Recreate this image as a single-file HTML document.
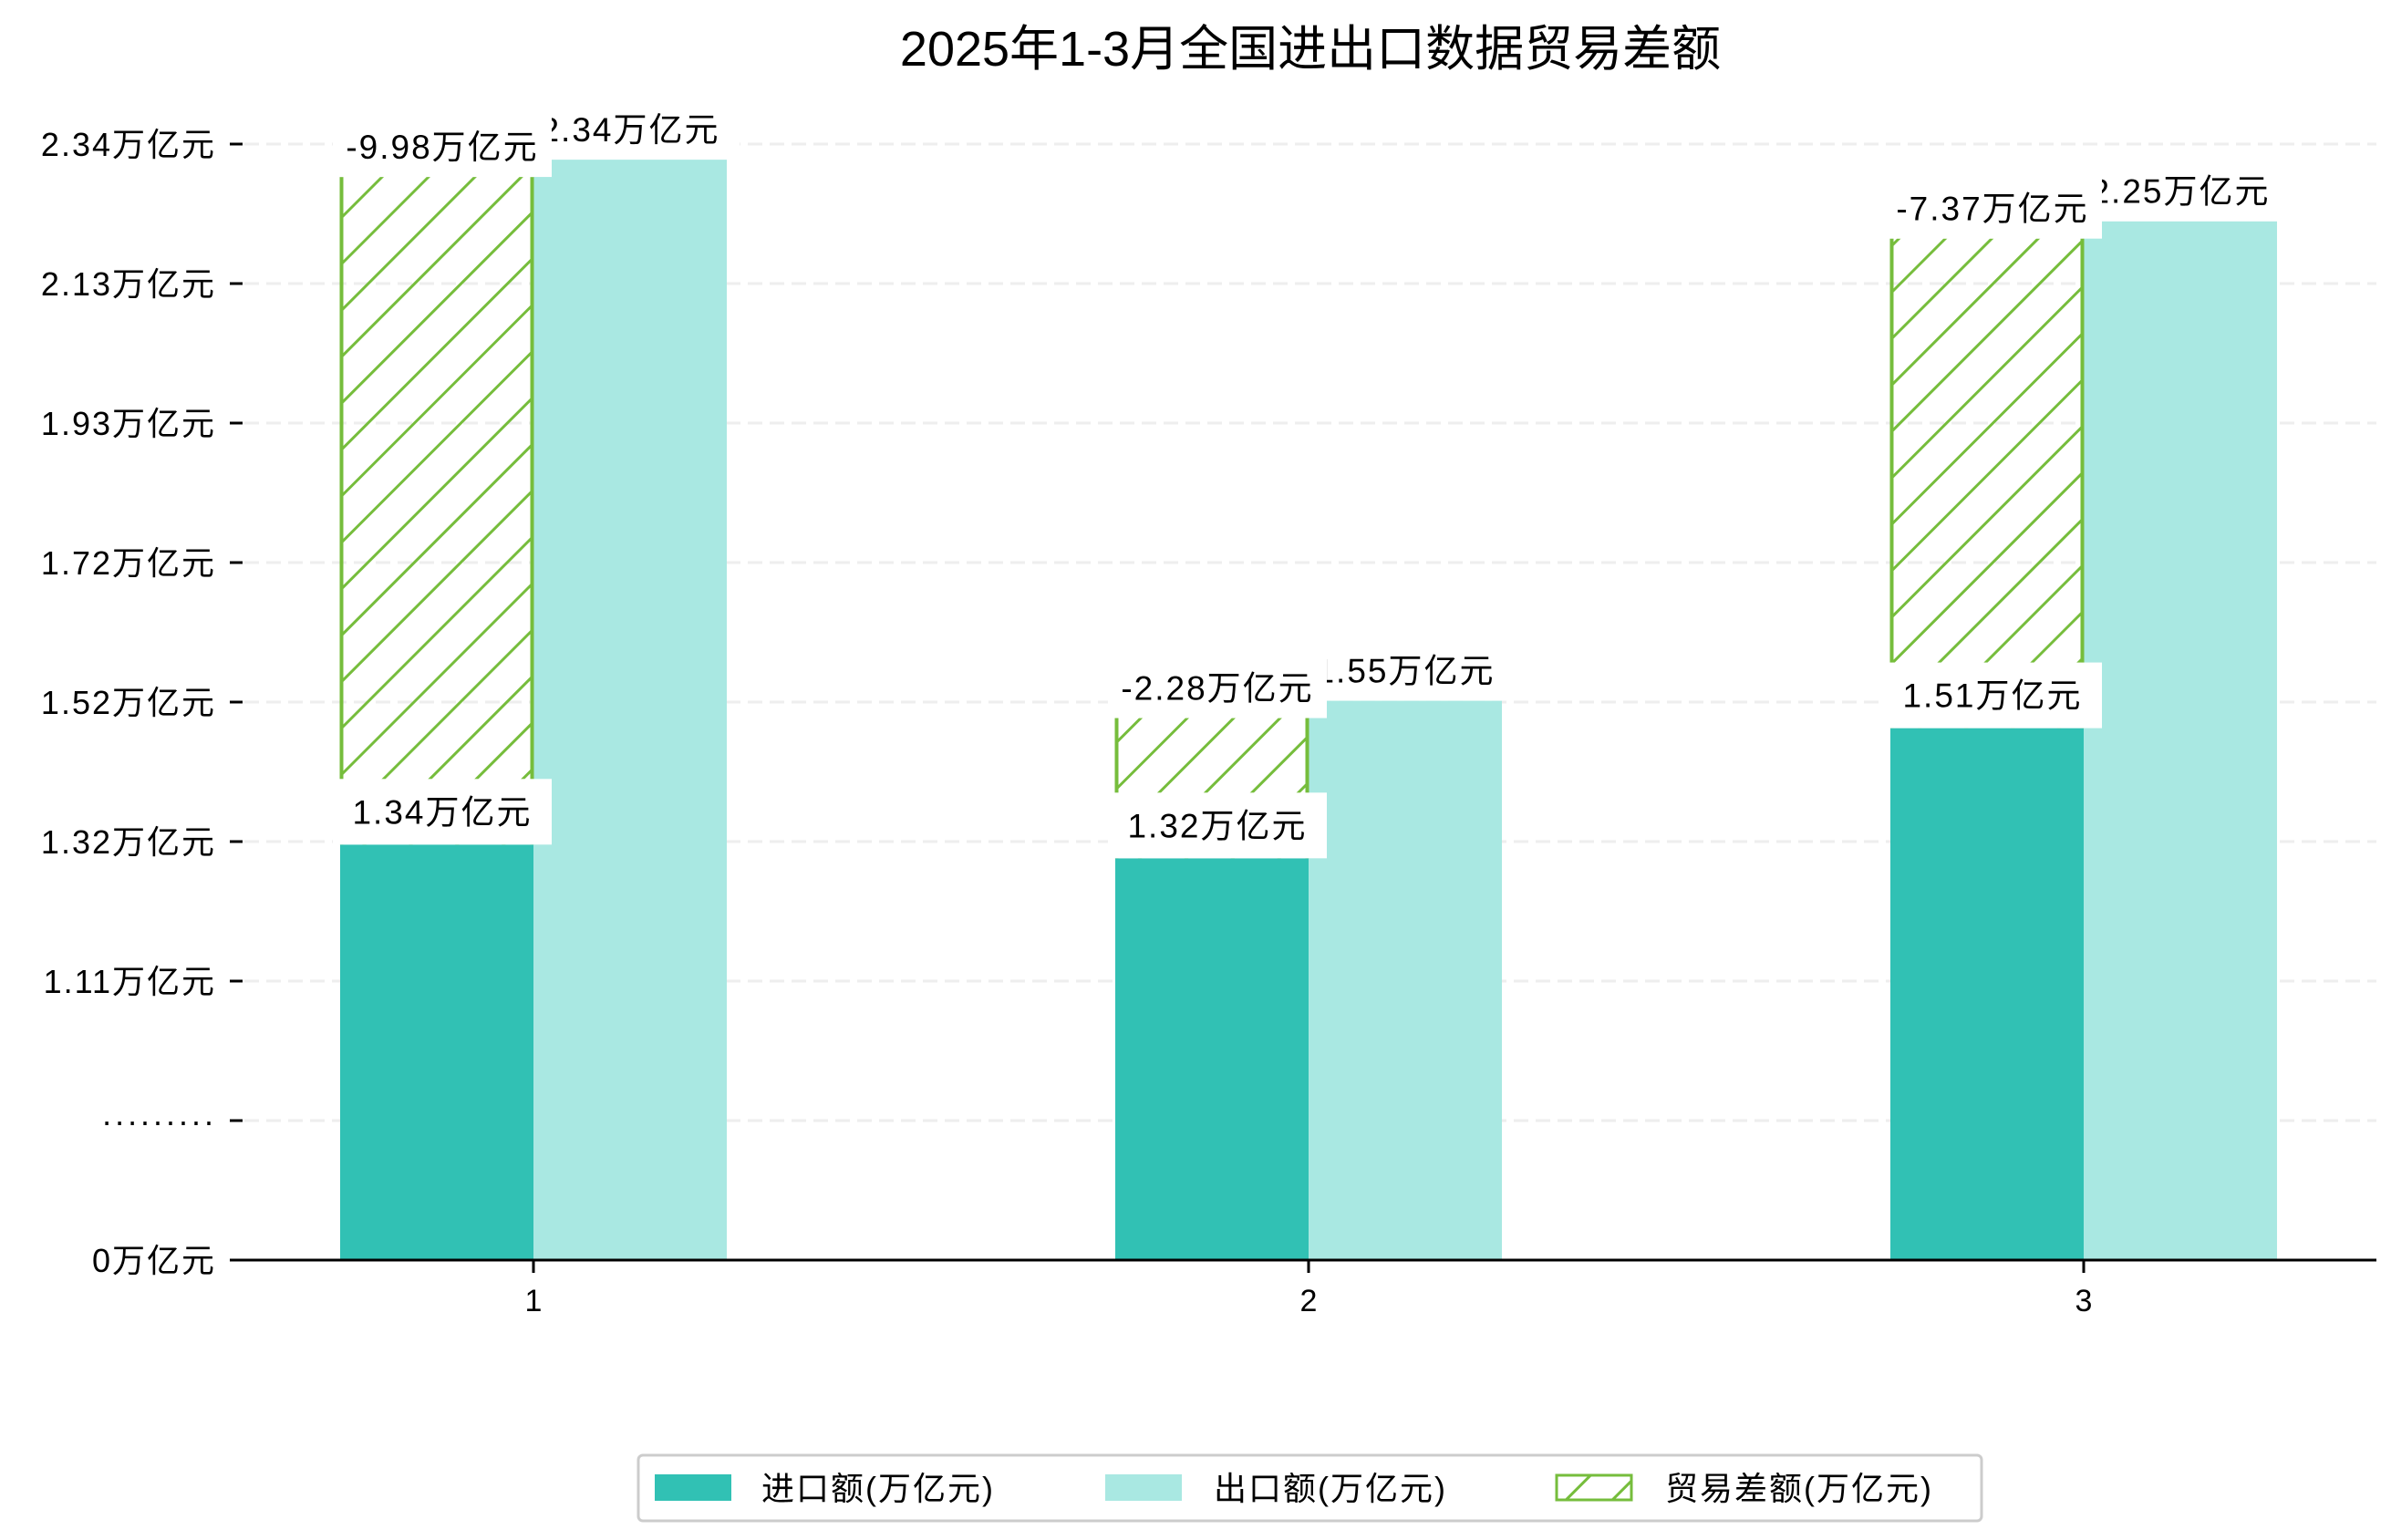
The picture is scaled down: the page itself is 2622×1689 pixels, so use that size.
<!DOCTYPE html>
<html><head><meta charset="utf-8">
<style>
html,body{margin:0;padding:0;background:#fff;}
svg{display:block;font-family:"Liberation Sans","Noto Sans CJK SC",sans-serif;}
</style></head>
<body>
<svg id="chart" width="2622" height="1689" viewBox="0 0 2622 1689" xmlns="http://www.w3.org/2000/svg">
<defs>
<pattern id="hatch" patternUnits="userSpaceOnUse" width="36" height="36" patternTransform="rotate(45)">
<line x1="0" y1="0" x2="0" y2="36" stroke="#76bd3c" stroke-width="6"/>
</pattern>
</defs>
<text x="1437" y="72" text-anchor="middle" font-size="54" fill="#000">2025年1-3月全国进出口数据贸易差额</text>
<g id="grid"></g><g id="bars"></g><g id="labels"></g><g id="axes"></g>
<g>
<rect x="700" y="1596" width="1473" height="72" rx="5" fill="#fff" stroke="#ccc" stroke-width="3"/>
<rect x="718" y="1617" width="84" height="29" fill="#31c1b4"/>
<text x="835" y="1645" font-size="36" letter-spacing="2">进口额(万亿元)</text>
<rect x="1212" y="1617" width="84" height="29" fill="#a9e8e2"/>
<text x="1331" y="1645" font-size="36" letter-spacing="2">出口额(万亿元)</text>
<rect x="1707" y="1618" width="82" height="27" fill="url(#hatch)" stroke="#76bd3c" stroke-width="3"/>
<text x="1826" y="1645" font-size="36" letter-spacing="2">贸易差额(万亿元)</text>
</g>
</svg>
<script>
const categories = ["1","2","3"];
const importValues = [1.34, 1.32, 1.51];
const exportValues = [2.34, 1.55, 2.25];
const balanceValues = [-9.98, -2.28, -7.37];
const yTickLabels = ["0万亿元","·········","1.11万亿元","1.32万亿元","1.52万亿元","1.72万亿元","1.93万亿元","2.13万亿元","2.34万亿元"];

const NS = "http://www.w3.org/2000/svg";
const baseY = 1382, step = 153, axisLeft = 254, axisRight = 2606;
const groupStart = 373, groupGap = 850, barW = 212;
function yIdx(i){ return baseY - i*step; }
function yVal(v){ return baseY - (4.91*v - 3.601)*step; }
function xImport(i){ return groupStart + i*groupGap; }
function mk(tag, attrs, parent){ const e=document.createElementNS(NS,tag); for(const k in attrs) e.setAttribute(k, attrs[k]); parent.appendChild(e); return e; }
const grid=document.getElementById('grid'), bars=document.getElementById('bars'), labels=document.getElementById('labels'), axes=document.getElementById('axes');

yTickLabels.forEach((t,i)=>{
  const y=yIdx(i);
  if(i>0){
    const g=mk('line',{x1:268,x2:axisRight,y1:y,y2:y,stroke:'#eeeeee','stroke-width':3,'stroke-dasharray':'16,8'},grid);
    
    
  }
  const tk=mk('line',{x1:252,x2:266,y1:y,y2:y,stroke:'#000','stroke-width':3},axes);
  
  
  const tx=mk('text',{x:237,y:y+13,'text-anchor':'end','font-size':36,'letter-spacing':2},axes);
  tx.textContent=t;
  
  
});
const ax=mk('line',{x1:axisLeft,x2:axisRight,y1:baseY,y2:baseY,stroke:'#000','stroke-width':3},axes);



function labelBox(cx, bottom, text, h){
  const w = 240;
  const r=mk('rect',{x:cx-w/2,y:bottom-h,width:w,height:h,fill:'#fff'},labels);
  
  
  const t=mk('text',{x:cx,y:bottom-h/2+13,'text-anchor':'middle','font-size':37,'letter-spacing':2},labels);
  t.textContent=text;
  
  
}

categories.forEach((c,i)=>{
  const xi=xImport(i), xe=xi+barW;
  const yi=yVal(importValues[i]), ye=yVal(exportValues[i]);
  const bi=mk('rect',{x:xi,y:yi,width:barW,height:baseY-yi,fill:'#31c1b4'},bars);
  
  
  const be=mk('rect',{x:xe,y:ye,width:barW,height:baseY-ye,fill:'#a9e8e2'},bars);
  
  
  const hTop=ye+19;
  const bh=mk('rect',{x:xi,y:hTop,width:barW,height:yi-hTop,fill:'url(#hatch)'},bars);
  
  
  [xi+1.5, xe-1.5].forEach(x=>{
    const l=mk('line',{x1:x,x2:x,y1:hTop,y2:yi,stroke:'#76bd3c','stroke-width':4},bars);
    
    
  });
  const tk=mk('line',{x1:xe,x2:xe,y1:baseY,y2:baseY+14,stroke:'#000','stroke-width':3},axes);
  
  
  const tl=mk('text',{x:xe,y:baseY+56,'text-anchor':'middle','font-size':34},axes);
  tl.textContent=c;
  
  
});
categories.forEach((c,i)=>{ const xe=xImport(i)+barW; labelBox(xe+barW/2, yVal(exportValues[i]), exportValues[i].toFixed(2)+'万亿元', 66); });
categories.forEach((c,i)=>{ const xi=xImport(i); labelBox(xi+barW/2+6, yVal(exportValues[i])+19, balanceValues[i].toFixed(2)+'万亿元', 66); });
categories.forEach((c,i)=>{ const xi=xImport(i); labelBox(xi+barW/2+6, yVal(importValues[i]), importValues[i].toFixed(2)+'万亿元', 72); });
</script>
</body></html>
